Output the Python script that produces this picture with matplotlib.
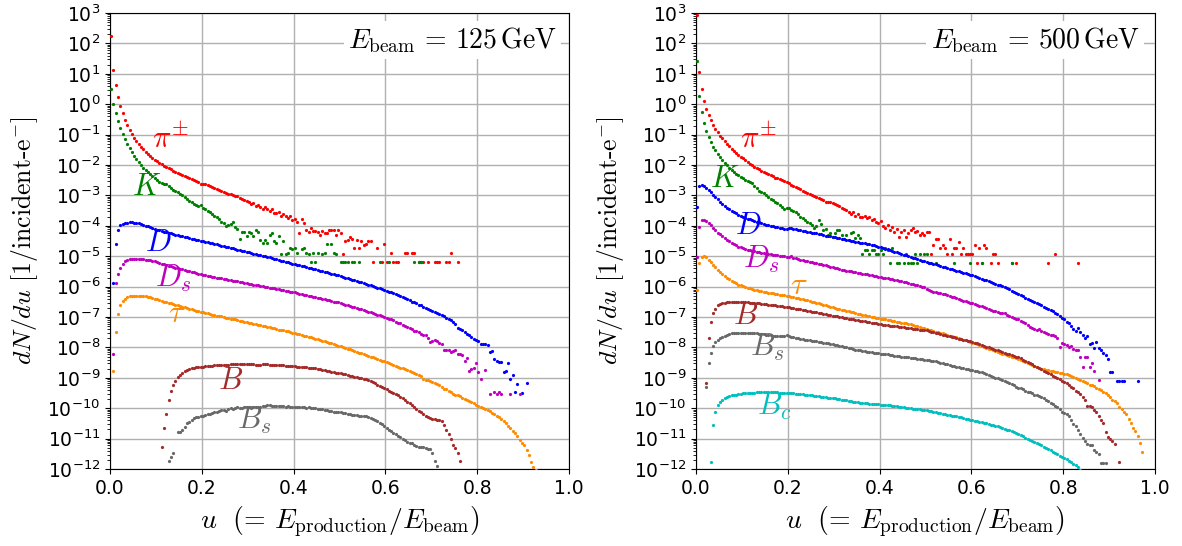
import numpy as np
import matplotlib
matplotlib.use("Agg")
import matplotlib.pyplot as plt
from matplotlib.ticker import LogLocator, NullFormatter, FixedLocator

N = None
STEP = 0.005

# ---------------- E_beam = 125 GeV : log10(dN/du), bins of 0.005 ----------------
pi125_u0 = 0.0025
pi125 = [2.25, 1.13, 0.62, 0.25, -0.05, -0.29, -0.51, -0.69, -0.84, -0.98, -1.1, -1.21, -1.31, -1.4, -1.48,
         -1.56, -1.63, -1.7, -1.76, -1.82, -1.87, -1.92, -1.97, -2.02, -2.06, -2.1, -2.14, -2.18, -2.22, -2.26,
         -2.3, -2.33, -2.37, -2.4, -2.44, -2.47, -2.5, -2.53, -2.57, -2.61, -2.62, -2.63, -2.66, -2.7, -2.73,
         -2.77, -2.79, -2.82, -2.86, -2.87, -2.92, -2.94, -2.96, -3.0, -3.03, -3.02, -3.08, -3.12, -3.14, -3.18,
         -3.22, -3.29, -3.24, -3.34, -3.31, -3.37, -3.43, -3.39, -3.46, -3.52, -3.46, -3.57, -3.58, -3.55, -3.66,
         -3.6, -3.68, -3.74, -3.69, -3.8, -3.78, -3.86, -4.24, -3.76, -3.92, -4.13, -4.2, -4.07, -4.18, -4.18,
         -4.2, -4.29, -4.18, -4.24, -4.24, -4.13, -4.15, -4.14, -4.3, -4.12, -4.24, -4.91, -4.49, -4.46, -4.37,
         -4.44, -4.73, -4.45, -4.73, -4.49, -4.62, -4.6, -4.5, -4.49, -5.2, N, -4.73, N, -5.2, -4.6,
         -5.2, N, -4.89, -5.2, -5.2, -5.2, N, N, -4.89, -4.89, N, -4.89, -4.89, N, -5.2,
         -5.2, -5.2, N, -5.2, N, N, -5.2, -5.2, -5.2, N, N, -5.2, -5.2, -4.89, N, N, -5.2]

k125_u0 = 0.0025
k125 = [0.5, 0.0, -0.3, -0.55, -0.78, -0.98, -1.15, -1.31, -1.45, -1.58, -1.7, -1.81, -1.91, -2.0, -2.09,
        -2.17, -2.23, -2.3, -2.36, -2.42, -2.48, -2.55, -2.58, -2.61, -2.62, -2.7, -2.76, -2.82, -2.86, -2.9,
        -2.95, -2.99, -3.06, -3.12, -3.18, -3.22, -3.28, -3.33, -3.35, -3.32, -3.4, -3.45, -3.5, -3.54, -3.6,
        -3.68, -3.72, -3.78, -3.87, -3.92, -4.01, -3.98, -3.93, -3.87, -4.05, -4.09, -4.42, -4.2, -4.2, -4.35,
        -4.2, -4.25, -4.34, -4.14, -4.2, -4.45, -4.58, -4.45, -4.58, -4.3, -4.22, -4.49, -4.58, -4.35, -4.91,
        -4.49, -4.91, -4.89, -4.73, -4.75, -4.73, -4.89, N, -4.75, -4.73, -4.89, -4.91, -5.19, -4.89, -5.19,
        -4.89, N, -4.91, -4.89, -4.6, N, -4.6, -4.89, -4.91, N, -5.2, -5.2, -5.2, -5.2, N,
        -5.2, -5.2, N, -5.2, N, N, N, N, N, N, N, N, -5.2, N, N,
        N, -5.2, N, N, N, N, N, N, N, N, N, N, -5.2, N, -5.2, -5.2]

d125_u0 = 0.0075
d125 = [-5.88, -4.6, -4.14, -3.98, -3.93, -3.9, -3.89, -3.88, -3.88, -3.89, -3.9, -3.92, -3.94, -3.97, -3.99,
        -4.02, -4.05, -4.08, -4.11, -4.13, -4.15, -4.17, -4.19, -4.21, -4.23, -4.25, -4.27, -4.29, -4.31, -4.33,
        -4.35, -4.37, -4.38, -4.4, -4.42, -4.44, -4.45, -4.47, -4.49,
        -4.5, -4.52, -4.54, -4.56, -4.58, -4.59, -4.61, -4.63, -4.65, -4.67, -4.69, -4.71, -4.72, -4.74, -4.76,
        -4.78, -4.8, -4.82, -4.84, -4.85, -4.87, -4.89, -4.91, -4.93, -4.95, -4.97, -4.98, -5.0, -5.02, -5.04,
        -5.06, -5.08, -5.1, -5.12, -5.14, -5.16, -5.18, -5.2, -5.22, -5.24,
        -5.26, -5.28, -5.29, -5.31, -5.33, -5.35, -5.37, -5.39, -5.41, -5.43, -5.45, -5.47, -5.49, -5.51, -5.53,
        -5.55, -5.57, -5.59, -5.61, -5.63,
        -5.65, -5.67, -5.7, -5.72, -5.74, -5.77, -5.79, -5.81, -5.84, -5.86, -5.88, -5.91, -5.93, -5.96, -5.98,
        -6.01, -6.03, -6.06, -6.08, -6.11,
        -6.13, -6.16, -6.19, -6.22, -6.25, -6.28, -6.31, -6.35, -6.38, -6.42, -6.45, -6.49, -6.52, -6.55, -6.59,
        -6.62, -6.66, -6.69, -6.73, -6.76, -6.8, -6.83, -6.86, -6.9, -6.94, -6.98, -7.02, -7.06, -7.1, -7.16,
        -7.22, -7.36, -7.4, -7.41, -7.5, -7.56, -7.6, -7.66, -7.72, -7.76, -7.78, -7.88, -7.9, -7.88, -7.93,
        -8.15, -8.13, -8.37, -8.45, -8.47, -8.48, -8.81, -8.78, -8.52, -9.03, -8.92, -9.47, -9.2, N, -9.51,
        N, -9.16]

ds125_u0 = 0.0075
ds125 = [-8.23, -5.88, -5.57, -5.37, -5.24, -5.16, -5.12, -5.1, -5.09, -5.08, -5.08, -5.08, -5.09, -5.1, -5.11,
         -5.12, -5.13, -5.15, -5.17, -5.19, -5.21, -5.24, -5.26, -5.28, -5.31, -5.33, -5.35, -5.37, -5.39, -5.41,
         -5.43, -5.45, -5.47, -5.49, -5.51, -5.53, -5.55, -5.57, -5.59,
         -5.61, -5.62, -5.64, -5.65, -5.67, -5.68, -5.7, -5.71, -5.72, -5.74, -5.75, -5.77, -5.78, -5.8, -5.81,
         -5.83, -5.84, -5.86, -5.87, -5.89, -5.9, -5.92, -5.93, -5.94, -5.96, -5.97, -5.99, -6.0, -6.02, -6.03,
         -6.05, -6.06, -6.08, -6.09, -6.11, -6.12, -6.14, -6.15, -6.16, -6.18,
         -6.19, -6.21, -6.23, -6.24, -6.26, -6.28, -6.3, -6.31, -6.33, -6.35, -6.36, -6.38, -6.4, -6.42, -6.43,
         -6.45, -6.47, -6.49, -6.5, -6.52,
         -6.55, -6.57, -6.59, -6.61, -6.63, -6.66, -6.68, -6.7, -6.73, -6.75, -6.77, -6.79, -6.82, -6.84, -6.87,
         -6.89, -6.92, -6.94, -6.97, -6.99,
         -7.02, -7.06, -7.08, -7.1, -7.16, -7.2, -7.2, -7.26, -7.29, -7.33, -7.36, -7.4, -7.45, -7.47, -7.5,
         -7.56, -7.58, -7.6, -7.7, -7.82, -7.78, -7.75, -7.8, -7.86, -7.9, -8.08, -8.1, -8.1, -8.15, -8.12,
         -8.07, -8.21, -8.21, -8.24, -8.43, -8.34, -8.76, -8.7, -8.67, -8.52, -8.81, -9.03, N, -8.73, N,
         -9.53, N, -9.47, -9.53, -9.47, -9.53, N, N, N, -9.53, N, N, N, -9.53]

tau125_u0 = 0.0075
tau125 = [-8.78, -7.49, -6.91, -6.62, -6.47, -6.4, -6.35, -6.32, -6.31, -6.3, -6.3, -6.3, -6.3, -6.31, -6.32,
          -6.33, -6.35, -6.37, -6.4, -6.42, -6.44, -6.46, -6.49, -6.51, -6.53, -6.55, -6.57, -6.6, -6.62, -6.64,
          -6.66, -6.68, -6.71, -6.73, -6.75, -6.77, -6.79, -6.81, -6.84,
          -6.85, -6.87, -6.88, -6.9, -6.92, -6.93, -6.95, -6.97, -6.98, -7.0, -7.02, -7.03, -7.05, -7.07, -7.08,
          -7.1, -7.12, -7.13, -7.15, -7.17,
          -7.18, -7.2, -7.22, -7.23, -7.25, -7.27, -7.29, -7.3, -7.32, -7.34, -7.35, -7.37, -7.39, -7.41, -7.42,
          -7.44, -7.46, -7.47, -7.49, -7.51,
          -7.53, -7.55, -7.57, -7.59, -7.61, -7.63, -7.65, -7.67, -7.69, -7.71, -7.73, -7.75, -7.78, -7.8, -7.82,
          -7.84, -7.86, -7.89, -7.91, -7.94, -7.96, -7.99, -8.02, -8.04, -8.06, -8.09, -8.12, -8.14, -8.17, -8.19,
          -8.22, -8.24, -8.27, -8.3, -8.32, -8.35, -8.37, -8.4, -8.43, -8.46,
          -8.49, -8.51, -8.54, -8.57, -8.6, -8.63, -8.67, -8.69, -8.72, -8.75, -8.78, -8.82, -8.85, -8.88, -8.9,
          -8.94, -9.04, -9.06, -9.08, -9.12, -9.15, -9.18, -9.21, -9.24, -9.3, -9.38, -9.36, -9.42, -9.48, -9.52,
          -9.55, -9.58, -9.6, -9.66, -9.7, -9.73, -9.76, -9.8, -9.84, -9.9, -9.92, -9.96, -10.0, -10.03, -10.06,
          -10.09, -10.15, -10.2, -10.25, -10.3, -10.36, -10.43, -10.5, -10.57, -10.66, -10.74, -10.82, -10.92,
          -11.03, -11.14, -11.22, -11.38, -11.55, -11.78, -11.92, -12.03]

b125_u0 = 0.1125
b125 = [-11.26, -10.66, -10.19, -9.73, -9.42, -9.25, -9.09, -8.98, -8.9, -8.84, -8.78, -8.74, -8.71, -8.69, -8.67,
        -8.66, -8.65, -8.64, -8.63, -8.62, -8.61, -8.6, -8.6, -8.59, -8.59, -8.58, -8.58, -8.57, -8.57, -8.57,
        -8.56, -8.56, -8.56, -8.56, -8.56, -8.56, -8.56, -8.56, -8.56, -8.56, -8.56, -8.57, -8.57, -8.57,
        -8.56, -8.56, -8.56, -8.57, -8.57, -8.57, -8.58, -8.58, -8.59, -8.59, -8.6, -8.6, -8.61, -8.61, -8.62,
        -8.63, -8.63, -8.64, -8.65, -8.66, -8.67, -8.67, -8.68, -8.69, -8.7, -8.72, -8.73, -8.75, -8.77, -8.79,
        -8.8, -8.82, -8.83, -8.84, -8.85, -8.87, -8.89, -8.91, -8.93, -8.95, -8.96, -8.98, -8.99, -9.01, -9.03,
        -9.05, -9.08, -9.11, -9.15, -9.18, -9.22, -9.26, -9.3, -9.34, -9.38, -9.42, -9.46, -9.5, -9.54, -9.58,
        -9.63, -9.68, -9.73, -9.78, -9.84, -9.9, -9.96, -10.02, -10.08, -10.14, -10.2, -10.24, -10.29, -10.32,
        -10.34, -10.36, -10.38, -10.4, -10.43, -10.55, -10.7, -10.86, -11.01, -11.2, -11.3, -11.48, -11.72]

bs125_u0 = 0.1275
bs125 = [-11.73, -11.59, -11.48, N, -10.77, -10.79, -10.7, -10.63, -10.5, -10.46, -10.38, -10.33, -10.3, -10.28,
         -10.25, -10.24, -10.22, -10.2, -10.19, -10.15, -10.13, -10.12, -10.1, -10.06, -10.05, -10.08, -10.03,
         -10.0, -10.02, -9.99, -9.96, -9.98, -9.99, -9.97, -9.96, -9.97, -9.98, -9.97, -9.96, -9.97, -9.95, -9.94,
         -9.92, -9.9, -9.88, -9.92, -9.93, -9.93, -9.94, -9.93, -9.94, -9.95, -9.94, -9.96, -9.95, -9.96, -9.95,
         -9.97, -9.96, -9.97, -9.98, -9.97, -9.99, -9.99, -10.0, -10.01, -10.03, -10.04, -10.05, -10.07, -10.08,
         -10.09, -10.11, -10.12, -10.13, -10.14, -10.16, -10.17, -10.18, -10.2, -10.21, -10.22, -10.23, -10.24,
         -10.25, -10.26, -10.27, -10.29, -10.31, -10.34, -10.38, -10.42, -10.47, -10.53, -10.6, -10.65, -10.7,
         -10.75, -10.8, -10.86, -10.92, -10.96, -11.0, -11.05, -11.1, -11.16, -11.15, -11.2, -11.24, -11.27,
         -11.29, -11.28, -11.31, -11.33, -11.35, -11.48, -11.73, -11.9]

# ---------------- E_beam = 500 GeV ----------------
pi500_u0 = 0.0025
pi500 = [2.95, 1.05, 0.5, 0.12, -0.15, -0.35, -0.52, -0.67, -0.8, -0.92, -1.03, -1.12, -1.21, -1.3, -1.38,
         -1.46, -1.53, -1.6, -1.66, -1.72, -1.78, -1.84, -1.89, -1.95, -2.0, -2.05, -2.1, -2.14, -2.18, -2.22,
         -2.26, -2.3, -2.34, -2.37, -2.41, -2.44, -2.47, -2.5, -2.53, -2.56, -2.6, -2.64, -2.68, -2.73, -2.77,
         -2.8, -2.84, -2.88, -2.91, -2.95, -2.98, -3.02, -3.05, -3.09, -3.12, -3.16, -3.2, -3.23, -3.21, -3.26,
         -3.28, -3.33, -3.35, -3.4, -3.44, -3.49, -3.53, -3.6, -3.55, -3.66, -3.62, -3.7, -3.72, -3.66, -3.74,
         -3.72, -3.8, -3.78, -3.86, -3.92, -3.85, -4.0, -4.08, -3.98, -4.13, -4.05, -4.2, -4.1, -4.37, -4.2,
         -4.12, -4.37, -4.22, -4.15, -4.07, -4.2, -4.18, -4.3, -4.25, -4.3, -4.2, -4.19,
         -4.92, -4.62, -4.44, -4.44, -4.74, -4.63, -4.74, -4.94, -4.44, -4.94, -4.74, -4.74, -4.54, -4.94, -4.74,
         -4.94, -4.94, -4.94, -4.94, -4.63, -5.22, -4.74, -5.22, -4.63, -4.74, N, -5.23, -4.94, -4.94, -5.23,
         N, N, N, N, N, -5.23, N, -5.23, N, N, N, N, N, N, N, N, N, N, N, N, N, -5.23, N, N, -4.94,
         N, N, N, N, N, N, N, N, N, -5.23]

k500_u0 = 0.0025
k500 = [1.41, 0.28, -0.27, -0.62, -0.88, -1.07, -1.24, -1.4, -1.52, -1.63, -1.73, -1.82, -1.92, -2.0, -2.08,
        -2.15, -2.22, -2.28, -2.34, -2.38, -2.44, -2.5, -2.54, -2.57, -2.6, -2.68, -2.77, -2.86, -2.9, -2.93,
        -2.97, -3.04, -3.1, -3.15, -3.2, -3.25, -3.31, -3.37, -3.44, -3.4, -3.42, -3.47, -3.5, -3.55, -3.62,
        -3.7, -3.75, -3.81, -3.86, -3.92, -3.98, -4.08, -4.0, -3.81, -3.95, -4.14, -4.1, -4.3, -4.22, -4.36,
        -4.25, -4.14, -4.14, -4.3, -4.44, -4.3, -4.46, -4.22, -4.19, -4.4, -4.3, -4.4, -4.93, -4.79, -4.79,
        -4.93, -4.79, -4.79, -4.93, -4.92, -4.79, -4.92, -4.73, -4.79, -5.22, -4.74, N, -5.23, -5.23, N,
        -5.23, -4.94, -5.23, -5.23, -5.23, -4.92, -5.23, -4.94, N, -4.94, -4.94, -5.23, N, N, -5.22,
        N, N, N, N, N, N, N, -5.23, N, N, N, N, N, N, -5.23, N, N, N, N, -5.23,
        N, N, N, N, N, N, N, N, N, N, N, N, -5.23]

d500_u0 = 0.0025
d500 = [-3.37, -2.69, -2.67, -2.7, -2.76, -2.83, -2.9, -2.98, -3.05, -3.13, -3.2, -3.27, -3.34, -3.4, -3.45,
        -3.5, -3.55, -3.59, -3.63, -3.66, -3.7, -3.73, -3.76, -3.79, -3.81, -3.84, -3.86, -3.88, -3.91, -3.93,
        -3.96, -3.98, -4.0, -4.02, -4.03, -4.05, -4.07, -4.08, -4.1, -4.11,
        -4.07, -4.08, -4.1, -4.11, -4.13, -4.14, -4.16, -4.18, -4.19, -4.21, -4.22, -4.24, -4.25, -4.27, -4.28,
        -4.3, -4.32, -4.33, -4.35, -4.36, -4.38, -4.39, -4.41, -4.42, -4.44, -4.46, -4.47, -4.49, -4.5, -4.52,
        -4.53, -4.55, -4.56, -4.58, -4.6, -4.61, -4.63, -4.64, -4.66, -4.68,
        -4.7, -4.72, -4.75, -4.77, -4.8, -4.82, -4.85, -4.87, -4.9, -4.92, -4.95, -4.97, -5.0, -5.02, -5.05,
        -5.07, -5.1, -5.12,
        -5.14, -5.16, -5.18, -5.21, -5.23, -5.25, -5.27, -5.3, -5.32, -5.34, -5.36, -5.38, -5.41, -5.43, -5.45,
        -5.47, -5.5, -5.52, -5.54, -5.56, -5.59, -5.61,
        -5.63, -5.66, -5.69, -5.71, -5.74, -5.77, -5.79, -5.82, -5.85, -5.87, -5.9, -5.93, -5.96, -5.99,
        -6.02, -6.05, -6.09, -6.13, -6.17, -6.2, -6.24, -6.28,
        -6.32, -6.36, -6.4, -6.43, -6.47, -6.51, -6.54, -6.58, -6.62, -6.66, -6.7, -6.74, -6.77, -6.81, -6.86,
        -6.91, -6.97, -7.02, -7.06, -7.15, -7.2, -7.29, -7.4, -7.45, -7.37, -7.48, -7.59, -7.7, -7.64, -7.9,
        -7.86, -8.03, -7.81, -8.03, -8.08, -8.19, -8.25, -8.39, -8.8, -8.8, N, -9.1, -9.1, -9.1, -9.1,
        N, N, N, N, N, -9.1]

ds500_u0 = 0.0025
ds500 = [-5.03, -4.05, -3.81, -3.8, -3.85, -3.9, -3.98, -4.06, -4.14, -4.22, -4.28, -4.34, -4.4, -4.45, -4.5,
         -4.55, -4.6, -4.64, -4.68, -4.71, -4.73, -4.76, -4.78, -4.8, -4.82, -4.84, -4.86, -4.87, -4.89, -4.9,
         -4.92, -4.93, -4.94, -4.95, -4.96, -4.97, -4.98, -4.99, -5.0, -5.01,
         -5.02, -5.0, -5.05, -5.07, -5.09, -5.11, -5.13, -5.15, -5.17, -5.18, -5.2, -5.22, -5.23, -5.25, -5.27,
         -5.28, -5.3, -5.32, -5.34, -5.36, -5.38, -5.4, -5.42, -5.44, -5.45, -5.47, -5.48, -5.5, -5.52, -5.53,
         -5.55, -5.56, -5.58, -5.59, -5.6, -5.62, -5.63, -5.64, -5.66, -5.67, -5.68, -5.7, -5.71, -5.73, -5.74,
         -5.75, -5.77, -5.78, -5.8, -5.82, -5.84, -5.86, -5.88, -5.9, -5.92, -5.94, -5.96, -5.98, -6.0, -6.02,
         -6.08, -6.1, -6.13, -6.16, -6.18, -6.2, -6.22, -6.23, -6.24, -6.27, -6.3, -6.33, -6.35, -6.37, -6.4,
         -6.43, -6.46, -6.48, -6.5, -6.53, -6.55, -6.57, -6.6, -6.63, -6.65, -6.68, -6.71, -6.73, -6.76, -6.79,
         -6.81, -6.84, -6.86, -6.88, -6.87, -6.93, -6.96, -7.0, -7.02, -7.05, -7.08, -7.12, -7.15, -7.2, -7.25,
         -7.32, -7.36, -7.4, -7.43, -7.38, -7.46, -7.48, -7.52, -7.55, -7.59, -7.58, -7.62, -7.68, -7.97, -7.84,
         -7.88, -7.92, -7.97, -7.95, -8.05, -8.08, -8.1, -8.32, -8.63, -8.32, -8.32, -8.63, -8.5, -8.79, N, -9.08]

tau500_u0 = 0.0025
tau500 = [-6.12, -5.21, -5.01, -5.0, -5.04, -5.12, -5.2, -5.28, -5.36, -5.44, -5.51, -5.58, -5.64, -5.7, -5.75,
          -5.8, -5.85, -5.89, -5.93, -5.96, -5.99, -6.02, -6.04, -6.06, -6.08, -6.1, -6.12, -6.14, -6.15, -6.17,
          -6.18, -6.2, -6.21, -6.22, -6.24, -6.25, -6.27, -6.28, -6.29, -6.31,
          -6.32, -6.33, -6.35, -6.37, -6.38, -6.4, -6.41, -6.43, -6.45, -6.47, -6.49, -6.51, -6.53, -6.55, -6.57,
          -6.6, -6.62, -6.64, -6.66, -6.68, -6.7, -6.72, -6.74, -6.76, -6.78, -6.8, -6.81, -6.83, -6.85, -6.87,
          -6.89, -6.9, -6.92, -6.94, -6.96, -6.97, -6.99, -7.0, -7.02, -7.03, -7.05, -7.06, -7.08, -7.09, -7.11,
          -7.12, -7.14, -7.15, -7.17, -7.18, -7.2, -7.21, -7.23, -7.24, -7.26, -7.28, -7.3, -7.33, -7.35, -7.37,
          -7.4, -7.42, -7.44, -7.46, -7.48, -7.5, -7.52, -7.54, -7.57, -7.59, -7.61, -7.63, -7.65, -7.67, -7.7,
          -7.72, -7.74, -7.77, -7.79, -7.82,
          -7.85, -7.87, -7.9, -7.93, -7.95, -7.98, -8.01, -8.04, -8.06, -8.09, -8.12, -8.14, -8.17, -8.2, -8.23,
          -8.25, -8.28, -8.31, -8.33, -8.36, -8.39, -8.42,
          -8.45, -8.48, -8.51, -8.55, -8.58, -8.62, -8.65, -8.68, -8.7, -8.72, -8.74, -8.75, -8.76, -8.78, -8.8,
          -8.82, -8.84, -8.85, -8.87, -8.89, -8.91, -8.94, -8.97, -9.0, -9.04, -9.08, -9.11, -9.15, -9.18, -9.22,
          -9.25, -9.28, -9.32, -9.36, -9.4, -9.45, -9.5, -9.56, -9.63, -9.72, -9.76, -9.82, -9.95, -10.03, -10.12,
          -10.2, -10.35, -10.5, -10.64, -10.75, -10.9, -11.15, -11.43]

b500_u0 = 0.0225
b500 = [-9.16, -7.7, -7.15, -6.88, -6.72, -6.62, -6.57, -6.54, -6.53, -6.52, -6.51, -6.5, -6.5, -6.5, -6.5,
        -6.5, -6.51, -6.51, -6.52, -6.53, -6.53, -6.54, -6.55, -6.55, -6.56, -6.57, -6.58, -6.59, -6.6, -6.61,
        -6.62, -6.63, -6.64, -6.65, -6.66, -6.67,
        -6.68, -6.7, -6.71, -6.72, -6.74, -6.75, -6.77, -6.78, -6.79, -6.81, -6.82, -6.84, -6.85, -6.86, -6.88,
        -6.89, -6.91, -6.92, -6.93, -6.95, -6.96, -6.98, -6.99, -7.0, -7.02, -7.03, -7.05, -7.06, -7.07, -7.09,
        -7.1, -7.12, -7.13, -7.14, -7.16, -7.17, -7.19, -7.2, -7.21, -7.23,
        -7.24, -7.25, -7.26, -7.27, -7.28, -7.29, -7.3, -7.31, -7.32, -7.33, -7.34, -7.35, -7.36, -7.37, -7.38,
        -7.39, -7.4, -7.41, -7.42, -7.43, -7.44, -7.46, -7.48, -7.5, -7.52, -7.54, -7.56, -7.58, -7.6, -7.61,
        -7.63, -7.65, -7.67, -7.69, -7.71, -7.72, -7.74, -7.76, -7.78, -7.8, -7.82, -7.84, -7.87, -7.89, -7.92,
        -7.94, -7.97, -7.99, -8.02, -8.04, -8.07, -8.09, -8.12, -8.14, -8.17, -8.2, -8.22, -8.25, -8.27, -8.3,
        -8.33, -8.36, -8.4, -8.44, -8.48, -8.52, -8.56, -8.6, -8.64, -8.68, -8.72, -8.76, -8.8, -8.84, -8.88,
        -8.93, -8.97, -9.01, -9.05, -9.09, -9.14, -9.18, -9.24, -9.29, -9.35, -9.42, -9.48, -9.53, -9.62, -9.74,
        -9.93, -9.93, -9.95, -10.05, -10.11, -10.27, -10.4, -10.49, -10.77, -10.96, -11.02, -11.07, -11.18, N,
        -11.76]

bs500_u0 = 0.0225
bs500 = [-9.31, -8.52, -8.17, -7.95, -7.83, -7.75, -7.7, -7.65, -7.61, -7.58, -7.56, -7.54, -7.53, -7.52, -7.51,
         -7.51, -7.51, -7.51, -7.52, -7.52, -7.53, -7.53, -7.54, -7.55, -7.56, -7.57, -7.58, -7.59, -7.6, -7.61,
         -7.61, -7.62, -7.62, -7.63, -7.62, -7.6, -7.64, -7.66, -7.67, -7.68, -7.7, -7.71, -7.72, -7.74, -7.75,
         -7.76, -7.78, -7.79, -7.8, -7.82, -7.83, -7.84, -7.86, -7.87, -7.89, -7.9, -7.92, -7.93, -7.95, -7.96,
         -7.98, -8.0, -8.01, -8.03, -8.05, -8.07, -8.08, -8.1, -8.11, -8.12, -8.14, -8.15, -8.16, -8.17, -8.18,
         -8.19, -8.2, -8.21, -8.22, -8.23, -8.24, -8.25, -8.27, -8.28, -8.29, -8.3, -8.31, -8.32, -8.33, -8.34,
         -8.35, -8.36, -8.37, -8.38, -8.39, -8.4, -8.41, -8.42, -8.43, -8.45, -8.46, -8.48, -8.5, -8.52, -8.54,
         -8.56, -8.58, -8.6, -8.62, -8.64, -8.66, -8.67, -8.69, -8.7, -8.72, -8.73, -8.75, -8.77, -8.78, -8.8,
         -8.82, -8.85, -8.87, -8.9, -8.93, -8.96, -8.99, -9.02, -9.05, -9.08, -9.11, -9.14, -9.18, -9.21, -9.25,
         -9.29, -9.32, -9.35, -9.38, -9.42, -9.45, -9.48, -9.51, -9.55, -9.58, -9.61, -9.64, -9.67, -9.72, -9.77,
         -9.82, -9.87, -9.92, -9.97, -10.04, -10.12, -10.15, -10.2, -10.25, -10.38, -10.52, -10.6, -10.72,
         -10.85, -10.99, -11.07, -11.18, -11.2, -11.21, -11.38, -11.45, -11.51, -11.8, -11.8, -11.8]

bc500_u0 = 0.0325
bc500 = [-11.76, -10.55, -10.11, -9.91, -9.8, -9.73, -9.68, -9.64, -9.61, -9.58, -9.56, -9.55, -9.53, -9.52,
         -9.51, -9.5, -9.5, -9.49, -9.49, -9.49, -9.48, -9.48, -9.48, -9.48, -9.48, -9.48, -9.48, -9.48, -9.48,
         -9.48, -9.49, -9.49, -9.49, -9.5, -9.5, -9.51, -9.51, -9.52, -9.53, -9.53, -9.54, -9.55, -9.56, -9.57,
         -9.58, -9.59, -9.6, -9.61, -9.62, -9.63, -9.64, -9.65, -9.66, -9.67, -9.68, -9.69, -9.7, -9.72, -9.73,
         -9.74, -9.76, -9.77, -9.79, -9.8, -9.81, -9.82, -9.83, -9.84, -9.84, -9.85, -9.85, -9.86, -9.86, -9.87,
         -9.88, -9.88, -9.89, -9.9, -9.91, -9.92, -9.93, -9.94, -9.95, -9.96, -9.97, -9.98, -9.99, -10.0, -10.01,
         -10.02, -10.03, -10.04, -10.05, -10.06, -10.07, -10.09, -10.1, -10.12, -10.13, -10.15, -10.16, -10.18,
         -10.19, -10.21, -10.22, -10.24, -10.25, -10.27, -10.29, -10.3, -10.32, -10.34, -10.36, -10.38, -10.4,
         -10.41, -10.43, -10.45, -10.46, -10.48, -10.5, -10.52, -10.54, -10.56, -10.58, -10.6, -10.62, -10.64,
         -10.67, -10.7, -10.73, -10.76, -10.79, -10.82, -10.86, -10.89, -10.93, -10.97, -11.0, -11.04, -11.08,
         -11.11, -11.15, -11.19, -11.22, -11.26, -11.3, -11.35, -11.39, -11.43, -11.48, -11.52, -11.56, -11.6,
         -11.63, -11.68, -11.73, -11.78, -11.82, -11.88, -11.95, -12.03]

# label names, colours, label positions (u, log10 y)
names = {"pi": r"$\pi^{\pm}$", "k": r"$K$", "d": r"$D$", "ds": r"$D_s$", "tau": r"$\tau$",
         "b": r"$B$", "bs": r"$B_s$", "bc": r"$B_c$"}
colors = {"pi": "#ff0000", "k": "#008000", "d": "#0000ff", "ds": "#bf00bf", "tau": "#ff8c00",
          "b": "#a52a2a", "bs": "#696969", "bc": "#00bfbf"}

panel125 = [("pi", pi125_u0, pi125), ("k", k125_u0, k125), ("d", d125_u0, d125), ("ds", ds125_u0, ds125),
            ("tau", tau125_u0, tau125), ("b", b125_u0, b125), ("bs", bs125_u0, bs125)]
panel500 = [("pi", pi500_u0, pi500), ("k", k500_u0, k500), ("d", d500_u0, d500), ("ds", ds500_u0, ds500),
            ("tau", tau500_u0, tau500), ("b", b500_u0, b500), ("bs", bs500_u0, bs500), ("bc", bc500_u0, bc500)]

labels125 = {"pi": (0.092, -1.45), "k": (0.047, -2.98), "d": (0.076, -4.84), "ds": (0.097, -6.0),
             "tau": (0.127, -7.17), "b": (0.236, -9.37), "bs": (0.276, -10.69)}
labels500 = {"pi": (0.096, -1.45), "k": (0.030, -2.72), "d": (0.085, -4.28), "ds": (0.103, -5.38),
             "tau": (0.205, -6.24), "b": (0.081, -7.22), "bs": (0.118, -8.29), "bc": (0.132, -10.21)}

ebeam_texts = [r"$E_{\mathrm{beam}}\,=\,125\,\mathrm{GeV}$", r"$E_{\mathrm{beam}}\,=\,500\,\mathrm{GeV}$"]
xticks = [0.0, 0.2, 0.4, 0.6, 0.8, 1.0]
ydecades = list(range(-12, 4))

fig = plt.figure(figsize=(11.82, 5.46), dpi=100)
ax1 = fig.add_axes([0.0931, 0.141, 0.3883, 0.835])
ax2 = fig.add_axes([0.5888, 0.141, 0.3883, 0.835])


def draw(ax, panel, labels, etext, exr):
    for key, u0, vals in panel:
        v = np.array(vals, dtype=float)
        u = u0 + STEP * np.arange(len(v))
        ax.plot(u, 10.0 ** v, ls="none", marker="o", ms=2.3, mew=0, color=colors[key], zorder=3)
        lx, ly = labels[key]
        ax.text(lx, 10.0 ** ly, names[key], color=colors[key], fontsize=22, ha="left", va="baseline",
                math_fontfamily="cm", zorder=4)
    ax.set_yscale("log")
    ax.set_xlim(0, 1)
    ax.set_ylim(1e-12, 1e3)
    ax.set_xticks(xticks)
    ax.yaxis.set_major_locator(FixedLocator([10.0 ** k for k in ydecades]))
    ax.yaxis.set_minor_locator(LogLocator(base=10, subs=np.arange(2, 10), numticks=100))
    ax.yaxis.set_minor_formatter(NullFormatter())
    ax.grid(True, which="major", color="#b0b0b0", lw=1.0)
    ax.set_axisbelow(True)
    ax.tick_params(labelsize=13.5)
    ax.set_ylabel(r"$dN/du$ [1/incident-e$^{-}$]", fontsize=18.5, family="cmr10", math_fontfamily="cm",
                  labelpad=5)
    ax.set_xlabel(r"$u\ \ (\!=\, E_{\mathrm{production}}/E_{\mathrm{beam}})$", fontsize=20,
                  math_fontfamily="cm", labelpad=5)
    ax.text(exr, 0.923, etext, transform=ax.transAxes, ha="right", va="baseline", fontsize=20,
            math_fontfamily="cm", zorder=5,
            bbox=dict(facecolor="white", edgecolor="none", pad=3))


draw(ax1, panel125, labels125, ebeam_texts[0], 0.974)
draw(ax2, panel500, labels500, ebeam_texts[1], 0.967)

fig.savefig("out.png", dpi=100)
